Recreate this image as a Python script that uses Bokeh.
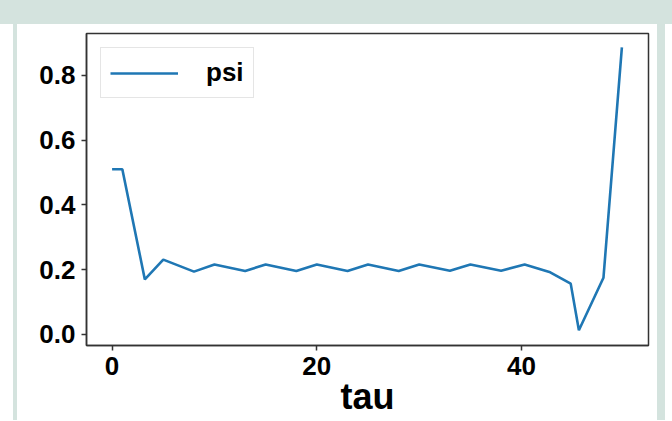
from bokeh.plotting import figure
from bokeh.models import Range1d, FixedTicker, NumeralTickFormatter, Div
from bokeh.layouts import row, column
from bokeh.embed import file_html
from bokeh.resources import INLINE

# ---- data ----
tau = [0, 1, 3.2, 5, 8, 10, 13, 15, 18, 20, 23, 25, 28, 30, 33, 35, 38, 40.3,
       42.8, 44.8, 45.6, 48, 49.8]
psi = [0.51, 0.51, 0.17, 0.231, 0.194, 0.216, 0.196, 0.216, 0.196, 0.216, 0.196,
       0.216, 0.196, 0.216, 0.197, 0.216, 0.197, 0.216, 0.192, 0.157, 0.013,
       0.175, 0.886]
x_ticks = [0, 20, 40]
y_ticks = [0.0, 0.2, 0.4, 0.6, 0.8]
series_name = "psi"
x_label = "tau"

band = "#d4e3de"
font = "Liberation Sans"
FIG_H = 396

p = figure(width=640, height=FIG_H, output_backend="svg", toolbar_location=None,
           x_range=Range1d(-2.5, 52.4), y_range=Range1d(-0.034, 0.929),
           min_border_left=69, min_border_right=9, min_border_top=9,
           min_border_bottom=75)
p.line(tau, psi, line_color="#1f77b4", line_width=2.6, legend_label=series_name)

p.xgrid.visible = False
p.ygrid.visible = False
p.outline_line_color = "#333333"
p.outline_line_width = 1.5
p.background_fill_color = "white"
p.border_fill_color = "white"

p.xaxis.ticker = FixedTicker(ticks=x_ticks)
p.yaxis.ticker = FixedTicker(ticks=y_ticks)
p.yaxis.formatter = NumeralTickFormatter(format="0.0")
for ax in (p.xaxis, p.yaxis):
    ax.major_tick_out = 5
    ax.major_tick_in = 0
    ax.minor_tick_out = 0
    ax.minor_tick_in = 0
    ax.axis_line_color = "#333333"
    ax.axis_line_width = 1.5
    ax.major_tick_line_color = "#333333"
    ax.major_tick_line_width = 1.5
    ax.major_label_text_font = font
    ax.major_label_text_font_style = "bold"
    ax.major_label_text_font_size = "26px"
    ax.major_label_text_color = "black"
    ax.major_label_standoff = 6

p.xaxis.axis_label = x_label
p.xaxis.axis_label_text_font = font
p.xaxis.axis_label_text_font_style = "bold"
p.xaxis.axis_label_text_font_size = "36px"
p.xaxis.axis_label_text_color = "black"
p.xaxis.axis_label_standoff = -2

lg = p.legend[0]
lg.location = "top_left"
lg.margin = 14
lg.padding = 9
lg.spacing = 0
lg.glyph_width = 68
lg.glyph_height = 26
lg.label_height = 26
lg.label_standoff = 28
lg.label_text_font = font
lg.label_text_font_style = "bold"
lg.label_text_font_size = "26px"
lg.label_text_color = "black"
lg.border_line_color = "#cccccc"
lg.border_line_width = 1
lg.background_fill_alpha = 0.8

top = Div(text="", width=672, height=24, margin=0,
          styles={"background-color": band})
left_white = Div(text="", width=13, height=FIG_H, margin=0)
left_strip = Div(text="", width=4, height=FIG_H, margin=0,
                 styles={"background-color": band})
right_strip = Div(text="", width=8, height=FIG_H, margin=0,
                  styles={"background-color": band})
layout = column(top, row(left_white, left_strip, p, right_strip))

open("out.html", "w").write(file_html(layout, INLINE))
